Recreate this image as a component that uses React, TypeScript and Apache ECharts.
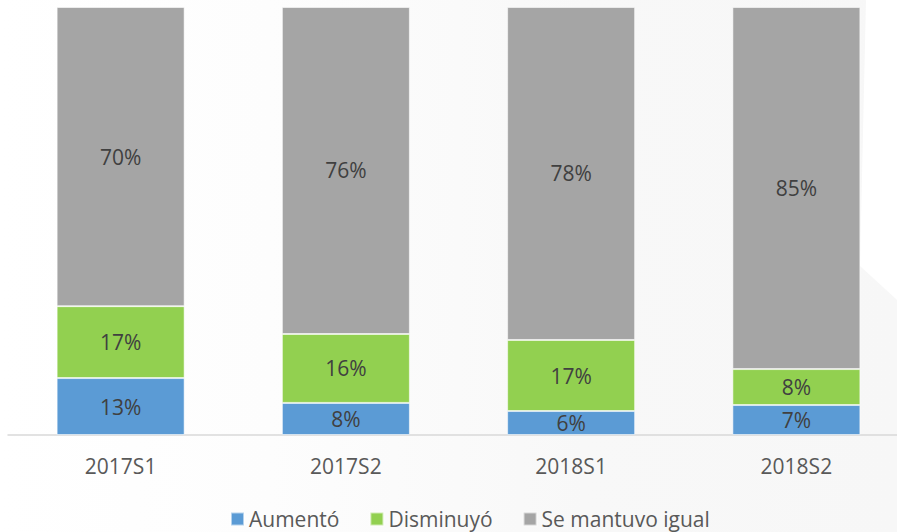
import React, { useEffect, useRef } from "react";
import * as echarts from "echarts";

const categories = ["2017S1", "2017S2", "2018S1", "2018S2"];
const aumento = [13.3, 7.5, 5.6, 7.0];
const disminuyo = [16.8, 16.1, 16.6, 8.4];
const seMantuvo = [69.9, 76.4, 77.8, 84.6];
const seriesNames = ["Aumentó", "Disminuyó", "Se mantuvo igual"];
const colors = ["#5b9bd5", "#92d050", "#a5a5a5"];

export default function App() {
  const ref = useRef<HTMLDivElement>(null);
  useEffect(() => {
    document.body.style.margin = "0";
    const chart = echarts.init(ref.current!, null, { renderer: "svg" });
    const font = "'Open Sans', sans-serif";
    const mk = (name: string, data: number[], color: string) => ({
      name,
      type: "bar",
      stack: "total",
      data,
      barWidth: 128,
      itemStyle: { color, borderColor: "rgba(255,255,255,0.55)", borderWidth: 1 },
      label: {
        show: true,
        position: "inside",
        color: "#404040",
        fontSize: 21,
        fontFamily: font,
        formatter: (p: any) => Math.round(p.value) + "%",
      },
    });
    chart.setOption({
      animation: false,
      backgroundColor: {
        type: "linear",
        x: 0, y: 0, x2: 1, y2: 0,
        colorStops: [
          { offset: 0, color: "#ffffff" },
          { offset: 0.3, color: "#fdfdfd" },
          { offset: 0.65, color: "#f8f8f8" },
          { offset: 1, color: "#f7f7f7" },
        ],
      },
      graphic: [
        {
          type: "polygon",
          z: -10,
          silent: true,
          shape: { points: [[866, 0], [897, 0], [897, 300], [860, 266]] },
          style: { fill: "#ffffff" },
        },
      ],
      grid: { left: 8, width: 901, top: 7, bottom: 97, containLabel: false, outerBoundsMode: "none" },
      legend: {
        data: seriesNames,
        top: 503,
        left: 225,
        itemWidth: 13,
        itemHeight: 13,
        itemGap: 30,
        icon: "rect",
        textStyle: { color: "#595959", fontSize: 21, lineHeight: 22, fontFamily: font, padding: [0, 0, 0, 0] },
      },
      xAxis: {
        type: "category",
        data: categories,
        axisLine: { lineStyle: { color: "#d9d9d9", width: 1.5 } },
        axisTick: { show: false },
        axisLabel: { color: "#595959", fontSize: 21, fontFamily: font, margin: 20 },
      },
      yAxis: {
        type: "value",
        min: 0,
        max: 100,
        show: false,
        splitLine: { show: false },
      },
      series: [
        mk(seriesNames[0], aumento, colors[0]),
        mk(seriesNames[1], disminuyo, colors[1]),
        mk(seriesNames[2], seMantuvo, colors[2]),
      ],
    });
    return () => chart.dispose();
  }, []);
  return <div ref={ref} style={{ width: 897, height: 532 }} />;
}
